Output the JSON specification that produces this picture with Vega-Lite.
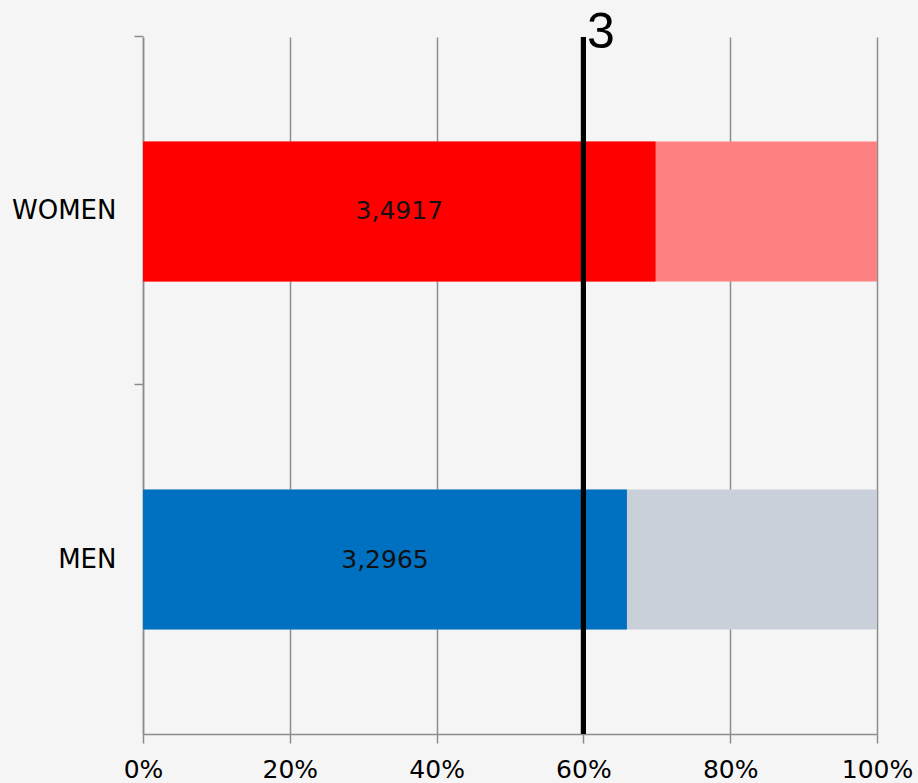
{
  "$schema": "https://vega.github.io/schema/vega-lite/v6.json",
  "width": 734,
  "height": 697,
  "autosize": {"type": "none"},
  "padding": {"left": 143, "top": 37, "right": 41, "bottom": 49},
  "background": "#f5f5f5",
  "config": {
    "view": {"stroke": null},
    "font": "DejaVu Sans",
    "locale": {"number": {"decimal": ",", "thousands": ".", "grouping": [3], "currency": ["", " €"]}}
  },
  "data": {
    "values": [
      {"gender": "WOMEN", "score": 3.4917, "max": 5, "threshold": 3},
      {"gender": "MEN", "score": 3.2965, "max": 5, "threshold": 3}
    ]
  },
  "layer": [
    {
      "mark": {"type": "bar"},
      "encoding": {
        "y": {
          "field": "gender", "type": "nominal", "sort": ["WOMEN", "MEN"],
          "scale": {"paddingInner": 0.598, "paddingOuter": 0.3},
          "axis": {
            "title": null, "labelFontSize": 26, "labelColor": "#000", "labelPadding": 18,
            "tickSize": 9, "tickColor": "#8c8c8c", "tickWidth": 1.5, "bandPosition": -0.75,
            "domainColor": "#8c8c8c", "domainWidth": 1.5
          }
        },
        "x": {
          "field": "max", "type": "quantitative",
          "scale": {"domain": [0, 5], "nice": false},
          "axis": {
            "values": [0, 1, 2, 3, 4, 5], "labelExpr": "datum.value * 20 + '%'",
            "title": null, "grid": true, "gridColor": "#8c8c8c", "gridWidth": 1.5,
            "domainColor": "#8c8c8c", "domainWidth": 1.5,
            "tickColor": "#8c8c8c", "tickWidth": 1.5, "tickSize": 9,
            "labelFontSize": 25, "labelColor": "#000", "labelPadding": 14, "labelFlush": false
          }
        },
        "color": {
          "field": "gender", "type": "nominal",
          "scale": {"domain": ["WOMEN", "MEN"], "range": ["#FF8080", "#C9D0D9"]},
          "legend": null
        }
      }
    },
    {
      "mark": {"type": "bar"},
      "encoding": {
        "y": {"field": "gender", "type": "nominal", "sort": ["WOMEN", "MEN"]},
        "x": {"field": "score", "type": "quantitative", "axis": null},
        "color": {
          "field": "gender", "type": "nominal",
          "scale": {"domain": ["WOMEN", "MEN"], "range": ["#FF0000", "#0070C0"]},
          "legend": null
        }
      }
    },
    {
      "mark": {"type": "text", "fontSize": 25, "color": "#111"},
      "encoding": {
        "y": {"field": "gender", "type": "nominal", "sort": ["WOMEN", "MEN"]},
        "x": {"field": "score", "type": "quantitative", "stack": "zero", "bandPosition": 0.5, "axis": null},
        "text": {"field": "score", "type": "quantitative", "format": ".4f"}
      }
    },
    {
      "mark": {"type": "rule", "color": "#000", "strokeWidth": 5},
      "encoding": {
        "x": {
          "field": "threshold", "type": "quantitative",
          "axis": {
            "orient": "top", "values": [3], "labelExpr": "'3'", "title": null,
            "ticks": false, "tickSize": 0, "domain": false, "grid": false,
            "labelFont": "Liberation Sans", "labelFontSize": 50, "labelColor": "#000",
            "labelAlign": "left", "labelBaseline": "middle", "labelPadding": 5, "labelOffset": 3
          }
        }
      }
    }
  ],
  "resolve": {"axis": {"x": "independent"}, "scale": {"color": "independent"}}
}
